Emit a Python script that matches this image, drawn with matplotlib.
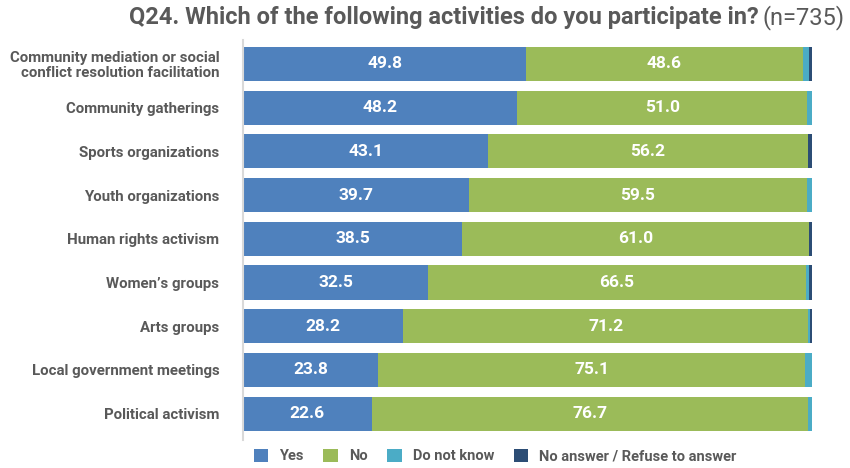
import matplotlib
matplotlib.use("Agg")
import matplotlib.pyplot as plt
import numpy as np

plt.rcParams['font.family'] = ['Roboto', 'DejaVu Sans']

categories = [
    "Community mediation or social\nconflict resolution facilitation",
    "Community gatherings",
    "Sports organizations",
    "Youth organizations",
    "Human rights activism",
    "Women\u2019s groups",
    "Arts groups",
    "Local government meetings",
    "Political activism",
]
yes = [49.8, 48.2, 43.1, 39.7, 38.5, 32.5, 28.2, 23.8, 22.6]
no = [48.6, 51.0, 56.2, 59.5, 61.0, 66.5, 71.2, 75.1, 76.7]
dont_know = [1.2, 0.8, 0.0, 0.8, 0.0, 0.6, 0.3, 1.1, 0.7]
no_answer = [0.4, 0.0, 0.7, 0.0, 0.5, 0.4, 0.3, 0.0, 0.0]

series = [
    ("Yes", yes, "#4F81BD"),
    ("No", no, "#9BBB59"),
    ("Do not know", dont_know, "#4BACC6"),
    ("No answer / Refuse to answer", no_answer, "#2C4D75"),
]
gray = "#595959"

fig = plt.figure(figsize=(8.5, 4.68), dpi=100)
ax = fig.add_axes([0.286, 0.06, 0.669, 0.855])

y = np.arange(len(categories))
left = np.zeros(len(categories))
for name, vals, color in series:
    vals = np.array(vals)
    bars = ax.barh(y, vals, left=left, height=0.78, color=color, label=name)
    if name in ("Yes", "No"):
        for yi, l, v in zip(y, left, vals):
            ax.text(l + v / 2, yi, f"{v:.1f}", ha="center", va="center",
                    color="white", fontsize=12.5, fontweight="bold")
    left += vals

ax.set_xlim(0, 100)
ax.set_ylim(8.6, -0.55)
ax.set_yticks(y)
ax.set_yticklabels(categories, fontsize=10.8, fontweight="bold", color=gray,
                   linespacing=1.1)
ax.tick_params(axis="y", length=0, pad=17)
ax.set_xticks([])
for s in ["top", "right", "bottom"]:
    ax.spines[s].set_visible(False)
ax.spines["left"].set_color("#D9D9D9")
ax.spines["left"].set_linewidth(1.5)

leg = fig.legend(loc="lower left", bbox_to_anchor=(0.283, -0.018), ncol=4,
                 frameon=False, handlelength=1.0, handleheight=1.0,
                 handletextpad=0.75, columnspacing=1.35,
                 prop={"size": 10.5, "weight": "bold"})
for t in leg.get_texts():
    t.set_color(gray)

# title: bold question followed by the sample size in regular weight
fig.canvas.draw()
r = fig.canvas.get_renderer()
n_txt = fig.text(0.994, 0.962, "(n=735)", ha="right", va="center",
                 fontsize=17, color=gray)
bb = n_txt.get_window_extent(renderer=r)
x0 = bb.x0 / fig.bbox.width - 0.005
fig.text(x0, 0.962, "Q24. Which of the following activities do you participate in?",
         ha="right", va="center", fontsize=17, fontweight="bold", color=gray)

fig.savefig("out.png", dpi=100)
